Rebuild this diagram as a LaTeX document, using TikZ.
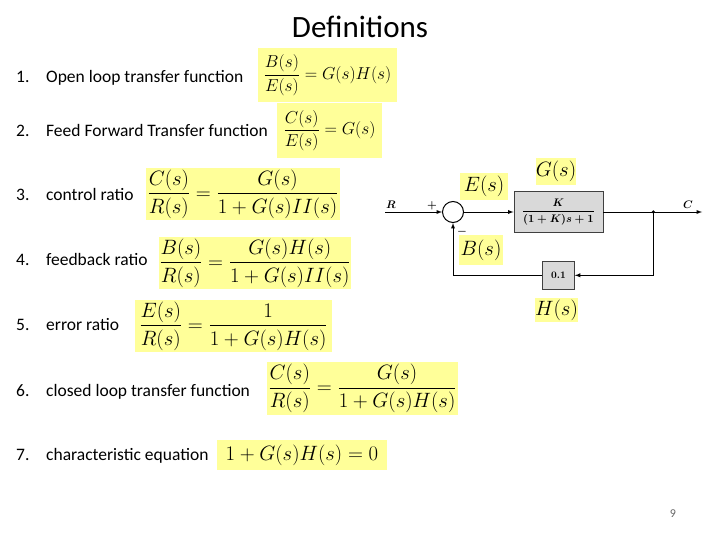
\documentclass[tikz,border=0pt]{standalone}
\usepackage{amsmath}
\usepackage[no-math]{fontspec}
\newfontfamily\calibri{Carlito}
\usetikzlibrary{positioning}
\definecolor{hilite}{RGB}{255,255,153}
\tikzset{title/.style={anchor=base, font=\calibri\fontsize{31}{36}\selectfont},
num/.style={anchor=base west, inner sep=0pt, font=\calibri\fontsize{17.5}{20}\selectfont},
item/.style={anchor=base west, inner sep=0pt, font=\calibri\fontsize{17.5}{20}\selectfont},
% the yellow boxes behind the equations
eqbox/.style={fill=hilite, inner sep=0pt, font=\fontsize{20.5}{24}\selectfont},
tag/.style={fill=hilite, inner sep=0pt, font=\fontsize{20}{23}\selectfont},
% blocks of the loop
block/.style={draw=black!75, fill=black!15, line width=0.8pt, inner sep=0pt},
sumpoint/.style={draw, circle, line width=1pt, minimum size=21pt, inner sep=0pt},
sig/.style={font=\fontsize{10.5}{12}\selectfont\boldmath, inner sep=1pt},
line/.style={-latex, line width=0.9pt}
}
\begin{document}
\begin{tikzpicture}[x=1pt,y=-1pt]
    \useasboundingbox (0,0) rectangle (720,540);
    \node[title] (head) at (360,38) {Definitions};
    % list of definitions
    \node[num] (n1) at (16,83) {1.};
    \node[item] (t1) at (46,83) {Open loop transfer function};
    \node[num] (n2) at (16,137) {2.};
    \node[item] (t2) at (46,137) {Feed Forward Transfer function};
    \node[num] (n3) at (16,201) {3.};
    \node[item] (t3) at (46,201) {control ratio};
    \node[num] (n4) at (16,265) {4.};
    \node[item] (t4) at (46,265) {feedback ratio};
    \node[num] (n5) at (16,330) {5.};
    \node[item] (t5) at (46,330) {error ratio};
    \node[num] (n6) at (16,396) {6.};
    \node[item] (t6) at (46,396) {closed loop transfer function};
    \node[num] (n7) at (16,460) {7.};
    \node[item] (t7) at (46,460) {characteristic equation};
    % equations
    \node[eqbox, minimum width=139pt, minimum height=54pt, font=\fontsize{18}{21}\selectfont] (e1) at (327.5,75) {$\dfrac{B(s)}{E(s)}=G(s)H(s)$};
    \node[eqbox, minimum width=105pt, minimum height=55pt, font=\fontsize{18.5}{21}\selectfont] (e2) at (329.5,130.5) {$\dfrac{C(s)}{E(s)}=G(s)$};
    \node[eqbox, minimum width=194pt, minimum height=52pt] (e3) at (243,194) {$\dfrac{C(s)}{R(s)}=\dfrac{G(s)}{1+G(s)II(s)}$};
    \node[eqbox, minimum width=190pt, minimum height=52pt] (e4) at (255,263) {$\dfrac{B(s)}{R(s)}=\dfrac{G(s)H(s)}{1+G(s)II(s)}$};
    \node[eqbox, minimum width=197pt, minimum height=52pt] (e5) at (233.5,326) {$\dfrac{E(s)}{R(s)}=\dfrac{1}{1+G(s)H(s)}$};
    \node[eqbox, minimum width=191pt, minimum height=53pt] (e6) at (362.5,388.5) {$\dfrac{C(s)}{R(s)}=\dfrac{G(s)}{1+G(s)H(s)}$};
    \node[eqbox, minimum width=170pt, minimum height=30pt, font=\fontsize{21.5}{24}\selectfont] (e7) at (302,455) {$1+G(s)H(s)=0$};
    % block diagram
    \node[sumpoint] (sum) at (453,212) {};
    \node[block, minimum width=89pt, minimum height=41pt, right=49.5pt of sum, font=\fontsize{11}{13}\selectfont\boldmath] (g) {$\dfrac{K}{(1+K)s+1}$};
    \node[block, minimum width=32pt, minimum height=28pt, below=28pt of g, font=\fontsize{10}{12}\selectfont\bfseries] (h) {0.1};
    \coordinate[right=50pt of g] (jn);
    \coordinate (rin) at (385,212);
    \coordinate (cout) at (702,212);
    \draw[line] (rin) -- (sum);
    \draw[line] (sum) -- (g);
    \draw[line] (g) -- (cout);
    \fill (jn) circle (1.8pt);
    \draw[line] (jn) |- (h);
    \draw[line] (h) -| (sum);
    \node[sig] (r) at (391,205) {$R$};
    \node[sig] (c) at (688,205) {$C$};
    \node[sig] (plus) at (432,206) {$+$};
    \node[sig] (minus) at (462,232) {$-$};
    \node[tag, minimum width=48pt, minimum height=27pt] (es) at (484,186.5) {$E(s)$};
    \node[tag, minimum width=38pt, minimum height=27pt] (gs) at (556,171.5) {$G(s)$};
    \node[tag, minimum width=44pt, minimum height=30pt] (bs) at (481,250) {$B(s)$};
    \node[tag, minimum width=41pt, minimum height=24pt] (hs) at (556.5,310) {$H(s)$};
    \node[font=\calibri\fontsize{12}{14}\selectfont, text=black!60] (pg) at (673,514) {9};
  \end{tikzpicture}
\end{document}
